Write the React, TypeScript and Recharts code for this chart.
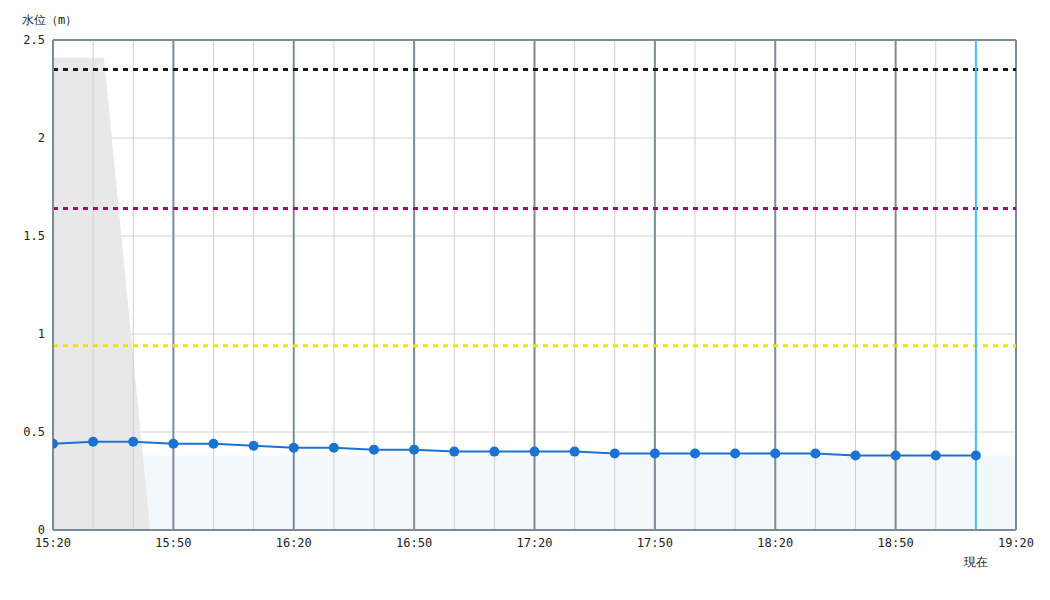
import {
  ComposedChart,
  Line,
  Area,
  XAxis,
  YAxis,
  CartesianGrid,
  ReferenceLine,
} from 'recharts'

// minutes after 15:20, one reading every 10 minutes
const times = [0, 10, 20, 30, 40, 50, 60, 70, 80, 90, 100, 110, 120, 130, 140, 150, 160, 170, 180, 190, 200, 210, 220, 230]
const levels = [0.44, 0.45, 0.45, 0.44, 0.44, 0.43, 0.42, 0.42, 0.41, 0.41, 0.4, 0.4, 0.4, 0.4, 0.39, 0.39, 0.39, 0.39, 0.39, 0.39, 0.38, 0.38, 0.38, 0.38]

const tickMinutes = [0, 30, 60, 90, 120, 150, 180, 210, 240]
const tickLabels = ['15:20', '15:50', '16:20', '16:50', '17:20', '17:50', '18:20', '18:50', '19:20']
const gridMinutes = [10, 20, 40, 50, 70, 80, 100, 110, 130, 140, 160, 170, 190, 200, 220, 230]

// grey band at the start of the window
const greyTimes = [0, 12.7, 24.2]
const greyValues = [2.41, 2.41, 0]

// pale blue band under the line
const baseTimes = [0, 240]
const baseValues = [0.38, 0.38]

const thresholds = [
  { value: 2.35, color: '#1a1a1a' },
  { value: 1.64, color: '#a00a72' },
  { value: 0.94, color: '#f2e400' },
]
const nowMinute = 230

const lineData = times.map((t, i) => ({ t, level: levels[i] }))
const greyData = greyTimes.map((t, i) => ({ t, grey: greyValues[i] }))
const baseData = baseTimes.map((t, i) => ({ t, base: baseValues[i] }))

const font = '"DejaVu Sans Mono", monospace'

export default function App() {
  return (
    <div style={{ position: 'fixed', left: 0, top: 0, width: 1050, height: 600, background: '#fff' }}>
      <div style={{ position: 'absolute', left: 22, top: 12, fontSize: 12, fontFamily: font, color: '#222' }}>
        水位（m）
      </div>
      <ComposedChart width={1050} height={600} margin={{ top: 40, right: 34, bottom: 40, left: 8 }}>
        <CartesianGrid vertical={false} stroke="#d4d4d4" strokeWidth={1} />
        <XAxis
          type="number"
          dataKey="t"
          domain={[0, 240]}
          ticks={tickMinutes}
          tickFormatter={(v: number) => tickLabels[tickMinutes.indexOf(v)]}
          tickLine={false}
          axisLine={{ stroke: '#7d8b97', strokeWidth: 2 }}
          tick={{ fontSize: 12, fontFamily: font, fill: '#222' }}
          height={30}
          allowDataOverflow
        />
        <YAxis
          type="number"
          domain={[0, 2.5]}
          ticks={[0, 0.5, 1, 1.5, 2, 2.5]}
          tickLine={false}
          axisLine={{ stroke: '#7d8b97', strokeWidth: 2 }}
          tick={{ fontSize: 12, fontFamily: font, fill: '#222' }}
          width={45}
          allowDataOverflow
        />
        <Area
          data={baseData}
          dataKey="base"
          type="linear"
          stroke="none"
          fill="#f3f8fd"
          fillOpacity={1}
          isAnimationActive={false}
        />
        <Area
          data={greyData}
          dataKey="grey"
          type="linear"
          stroke="none"
          fill="#e8e8e8"
          fillOpacity={1}
          isAnimationActive={false}
        />
        {gridMinutes.map((m) => (
          <ReferenceLine key={'g' + m} x={m} stroke="#d0d0d0" strokeWidth={1} />
        ))}
        {tickMinutes.slice(1).map((m) => (
          <ReferenceLine key={'m' + m} x={m} stroke="#7d8b97" strokeWidth={2} />
        ))}
        <ReferenceLine y={2.5} stroke="#7d8b97" strokeWidth={2} />
        {thresholds.map((th) => (
          <ReferenceLine
            key={th.value}
            y={th.value}
            stroke={th.color}
            strokeWidth={3}
            strokeDasharray="5 5"
          />
        ))}
        <ReferenceLine
          x={nowMinute}
          stroke="#4fb8f0"
          strokeWidth={2}
          label={{ value: '現在', position: 'bottom', offset: 27, fontSize: 12, fontFamily: font, fill: '#222' }}
        />
        <Line
          data={lineData}
          dataKey="level"
          type="linear"
          stroke="#1a73d0"
          strokeWidth={2}
          dot={{ r: 5, fill: '#1a73d0', stroke: '#1a73d0', strokeWidth: 0 }}
          isAnimationActive={false}
        />
      </ComposedChart>
    </div>
  )
}
